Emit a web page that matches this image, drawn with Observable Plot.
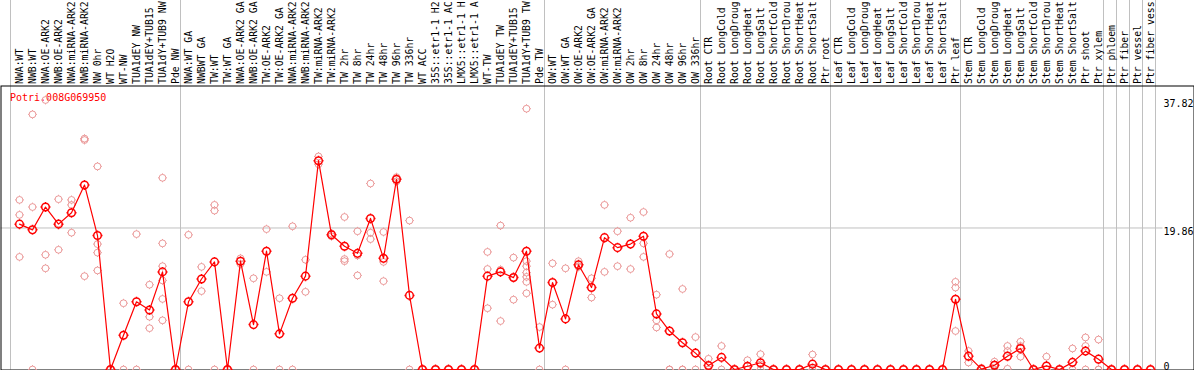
<!DOCTYPE html>
<html><head><meta charset="utf-8">
<script src="https://cdn.jsdelivr.net/npm/d3@7"></script>
<script src="https://cdn.jsdelivr.net/npm/@observablehq/plot@0.6"></script>
<style>html,body{margin:0;padding:0;background:#fff;overflow:hidden;}</style>
</head><body><div id="chart"></div>
<script>
const geneId = "Potri.008G069950";
const categories = [
  "NWA:WT","NWB:WT","NWA:OE-ARK2","NWB:OE-ARK2","NWA:miRNA-ARK2","NWB:miRNA-ARK2","NW 0hr","WT H2O","WT-NW","TUA1dEY NW","TUA1dEY+TUB15 NW","TUA1dY+TUB9 NW","Pde NW",
  "NWA:WT GA","NWBWT GA","TW:WT","TW:WT GA","NWA:OE-ARK2 GA","NWB:OE-ARK2 GA","TW:OE-ARK2","TW:OE-ARK2 GA","NWA:miRNA-ARK2 GA","NWB:miRNA-ARK2 GA","TW:miRNA-ARK2","TW:miRNA-ARK2 GA",
  "TW 2hr","TW 8hr","TW 24hr","TW 48hr","TW 96hr","TW 336hr","WT ACC","35S::etr1-1 H2O","35S::etr1-1 ACC","LMX5::etr1-1 H2O","LMX5::etr1-1 ACC","WT-TW","TUA1dEY TW","TUA1dEY+TUB15 TW","TUA1dY+TUB9 TW","Pde TW",
  "OW:WT","OW:WT GA","OW:OE-ARK2","OW:OE-ARK2 GA","OW:miRNA-ARK2","OW:miRNA-ARK2 GA","OW 2hr","OW 8hr","OW 24hr","OW 48hr","OW 96hr","OW 336hr",
  "Root CTR","Root LongCold","Root LongDrought","Root LongHeat","Root LongSalt","Root ShortCold","Root ShortDrought","Root ShortHeat","Root ShortSalt","Ptr root",
  "Leaf CTR","Leaf LongCold","Leaf LongDrought","Leaf LongHeat","Leaf LongSalt","Leaf ShortCold","Leaf ShortDrought","Leaf ShortHeat","Leaf ShortSalt","Ptr leaf",
  "Stem CTR","Stem LongCold","Stem LongDrought","Stem LongHeat","Stem LongSalt","Stem ShortCold","Stem ShortDrought","Stem ShortHeat","Stem ShortSalt","Ptr shoot",
  "Ptr xylem","Ptr phloem","Ptr fiber","Ptr vessel","Ptr fiber vessel"
];
const labelChars = 14; // the reference shows at most 14 characters of each label
const means = [
  20.4,19.6,22.8,20.4,22.0,25.9,18.8,0,4.8,9.5,8.35,13.7,0,
  9.5,12.7,15.1,0,15.2,6.3,16.6,5.0,10.0,13.1,29.3,18.9,
  17.3,16.3,21.2,15.6,26.7,10.4,0,0,0,0,0,13.1,13.7,12.9,16.6,3.0,
  12.2,7.1,14.7,11.5,18.5,17.1,17.6,18.7,7.8,5.4,3.75,2.3,
  0.56,1.7,0,0.46,0.95,0,0,0,0.75,0,
  0,0,0,0,0,0,0,0,0,9.86,
  1.87,0.05,0.6,1.87,2.95,0,0.5,0,1.0,2.58,
  1.45,0,0,0,0
];
const replicates = [
  [23.8,21.7,15.8],[35.8,22.8,0],[37.82,16.1,14.2],[23.9,20.5,16.8],[23.8,23.1,19.2],[32.4,32.2,13.1],[28.5,17.6,16.4,13.9],[0,0],[9.3,0],[19.0,0],[11.9,7.4,5.8],[26.9,17.7,14.5,12.5,9.9,6.9],[0,0],
  [18.9,0],[14.4,11.0],[23.1,22.3,0],[0,0],[15.6,14.8],[12.8,0],[19.7,13.7],[10.0,0],[20.1,0],[15.4,10.9],[29.9,28.8],[19.1,18.7],
  [21.4,15.5,15.2],[19.4,16.0,13.2],[26.1,19.2,18.3],[19.3,15.1,12.4],[27.0,26.7,26.4],[20.9,0],[0,0],[0,0],[0,0],[0,0],[0,0],[16.5,14.1,8.6],[20.2,14.0,6.8],[15.7,12.9,9.8],[36.6,15.2,14.5,13.6,13.0,12.3,10.7],[5.96,0],
  [14.9,9.1],[14.2,0],[15.2,14.5,14.4],[12.8,10.1],[23.1,13.7],[19.4,14.5],[21.3,14.1],[22.1,17.7,15.8],[10.5,6.9,5.9],[16.2,0,0],[11.3,0,0],[4.55,0],
  [1.5,0,0],[3.3,0],[0,0],[1.3,0,0],[2.15,0.7,0],[0,0],[0,0],[0,0],[2.1,0,0],[0,0],
  [0,0],[0,0],[0,0],[0,0],[0,0],[0,0],[0,0],[0,0],[0,0],[12.3,11.5,5.4],
  [2.6,0.98],[0.2,0],[1.1,0.7,0],[3.3,2.6,0.1],[3.9,3.3,1.8],[0,0],[1.8,0,0],[0,0],[2.95,0,0],[4.5,3.3,0],
  [4.2,0,0],[0,0],[0,0],[0,0],[0,0]
];
const yTicks = [37.82, 19.86, 0];
const yGrid = [19.86];
const groupEnds = ["Pde NW","Pde TW","OW 336hr","Ptr root","Ptr leaf","Ptr xylem","Ptr phloem","Ptr fiber","Ptr vessel","Ptr fiber vessel"];

const meanData = categories.map((c, i) => ({cat: c, v: means[i]}));
const repData = categories.flatMap((c, i) => replicates[i].map(v => ({cat: c, v})));

function ringSymbol(tick) {
  return {
    draw(ctx, size) {
      const r = Math.sqrt(size / Math.PI);
      ctx.moveTo(r, 0);
      ctx.arc(0, 0, r, 0, 2 * Math.PI);
      ctx.moveTo(0, -r); ctx.lineTo(0, -r - tick);
      ctx.moveTo(0, r); ctx.lineTo(0, r + tick);
      ctx.moveTo(-r, 0); ctx.lineTo(-r - tick, 0);
      ctx.moveTo(r, 0); ctx.lineTo(r + tick, 0);
    }
  };
}

const chart = Plot.plot({
  width: 1194,
  height: 370,
  marginTop: 85.5,
  marginBottom: 0.5,
  marginLeft: 0.5,
  marginRight: 0.5,
  style: {fontFamily: "'DejaVu Sans Mono', monospace", fontSize: "10px", background: "white", color: "black"},
  x: {type: "point", domain: categories, range: [19, 1150], padding: 0, axis: null},
  y: {domain: [0, 37.82], range: [369, 99.5], axis: null},
  marks: [
    Plot.ruleX(groupEnds, {x: d => d, dx: 5, stroke: "#c0c0c0", insetTop: -86}),
    Plot.ruleX([categories[0]], {x: d => d, dx: -9, stroke: "#c0c0c0", insetTop: -86}),
    Plot.ruleY(yGrid, {y: d => d, stroke: "#c0c0c0", insetRight: 31}),
    Plot.frame({stroke: "black"}),
    Plot.axisX({anchor: "top", tickRotate: -90, tickSize: 0, tickPadding: 2, fontSize: 9.8, label: null, tickFormat: d => d.slice(0, labelChars)}),
    Plot.text([geneId], {frameAnchor: "top-left", dx: 9, dy: 8, textAnchor: "start", lineAnchor: "top", fill: "red"}),
    Plot.text(yTicks.filter(d => d > 0), {y: d => d, text: d => String(d), frameAnchor: "right", dx: -30.5, textAnchor: "start", lineAnchor: "top", fill: "black"}),
    Plot.text(yTicks.filter(d => d === 0), {y: d => d, text: d => String(d), frameAnchor: "right", dx: -30.5, textAnchor: "start", lineAnchor: "bottom", fill: "black"}),
    Plot.dot(repData, {x: "cat", y: "v", r: 3.4, symbol: ringSymbol(1), stroke: "#eb9a9a", strokeWidth: 1}),
    Plot.line(meanData, {x: "cat", y: "v", stroke: "red", strokeWidth: 1.2}),
    Plot.dot(meanData, {x: "cat", y: "v", r: 3.8, symbol: ringSymbol(1.2), stroke: "red", strokeWidth: 1.5})
  ]
});
document.getElementById("chart").appendChild(chart);
</script>
</body></html>
